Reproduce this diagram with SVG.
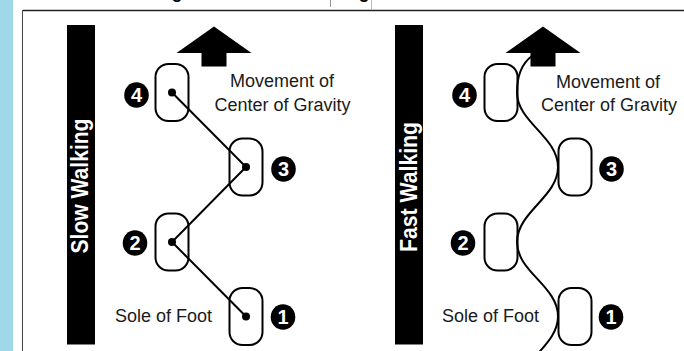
<svg xmlns="http://www.w3.org/2000/svg" width="684" height="351" viewBox="0 0 684 351">
<style>
.foot{fill:none;stroke:#000;stroke-width:2}
.lbl{font-family:"Liberation Sans",Arial,sans-serif;font-size:18px;fill:#1a1a1a}
.bar{fill:#000}
.bartxt{font-family:"Liberation Sans",Arial,sans-serif;font-size:23px;font-weight:bold;fill:#fff}
.num{fill:#000}
.numtxt{font-family:"Liberation Sans",Arial,sans-serif;font-size:20px;font-weight:bold;fill:#fff;text-anchor:middle}
.arrow{fill:#000}
.path{fill:none;stroke:#000;stroke-width:2}
.dot{fill:#000}
</style>
<rect width="684" height="351" fill="#fff"/>
<rect x="0" y="0" width="13" height="351" fill="#9fd9e9"/>
<g id="frame">
<line x1="22.5" y1="10.5" x2="684" y2="10.5" stroke="#222" stroke-width="1.3"/>
<line x1="22.5" y1="10.5" x2="22.5" y2="351" stroke="#444" stroke-width="1"/>
<line x1="330.5" y1="0" x2="330.5" y2="7" stroke="#999" stroke-width="1"/>
<line x1="371.5" y1="0" x2="371.5" y2="10" stroke="#bbb" stroke-width="1"/>
<text x="177" y="-2.2" font-family="Liberation Sans,Arial,sans-serif" font-size="18" font-weight="bold" text-anchor="middle">g</text>
<text x="364" y="-2.2" font-family="Liberation Sans,Arial,sans-serif" font-size="18" font-weight="bold" text-anchor="middle">g</text>
</g>

<!-- Slow walking panel -->
<g id="slow-bar">
<rect class="bar" x="67" y="25" width="28" height="319.5"/>
<text class="bartxt" transform="translate(88,253.5) rotate(-90)" textLength="135" lengthAdjust="spacingAndGlyphs">Slow Walking</text>
</g>
<g id="slow-arrow">
<polygon class="arrow" points="214,26.5 251.5,53 226.5,53 226.5,66.5 201.5,66.5 201.5,53 176.5,53"/>
</g>
<g id="slow-label">
<text class="lbl" x="282" y="87" text-anchor="middle">Movement of</text>
<text class="lbl" x="282.5" y="111" text-anchor="middle">Center of Gravity</text>
</g>
<g id="slow-connectors">
<polyline class="path" points="246,316.5 172,242 246,167 172,92.5"/>
</g>
<g id="slow-foot4">
<rect class="foot" x="155.5" y="64" width="33" height="57" rx="13"/>
<circle class="dot" cx="172" cy="92.5" r="4"/>
<ellipse class="num" cx="136.5" cy="95" rx="12.3" ry="12.8"/>
<text class="numtxt" x="136.5" y="102">4</text>
</g>
<g id="slow-foot3">
<rect class="foot" x="229.5" y="138.5" width="33" height="57" rx="13"/>
<circle class="dot" cx="246" cy="167" r="4"/>
<ellipse class="num" cx="283.5" cy="169" rx="12.3" ry="12.8"/>
<text class="numtxt" x="283.5" y="176">3</text>
</g>
<g id="slow-foot2">
<rect class="foot" x="155.5" y="213.5" width="33" height="57" rx="13"/>
<circle class="dot" cx="172" cy="242" r="4"/>
<ellipse class="num" cx="135" cy="243" rx="12.3" ry="12.8"/>
<text class="numtxt" x="135" y="250">2</text>
</g>
<g id="slow-foot1">
<rect class="foot" x="229.5" y="288" width="33" height="57" rx="13"/>
<circle class="dot" cx="246" cy="316.5" r="4"/>
<ellipse class="num" cx="283" cy="317" rx="12.3" ry="12.8"/>
<text class="numtxt" x="283" y="324">1</text>
<text class="lbl" x="115" y="322">Sole of Foot</text>
</g>

<!-- Fast walking panel -->
<g id="fast-bar">
<rect class="bar" x="395" y="25" width="28" height="319.5"/>
<text class="bartxt" transform="translate(416.5,252) rotate(-90)" textLength="130" lengthAdjust="spacingAndGlyphs">Fast Walking</text>
</g>
<g id="fast-arrow">
<polygon class="arrow" points="543,26.5 580.5,53 555.5,53 555.5,66.5 530.5,66.5 530.5,53 505.5,53"/>
</g>
<g id="fast-label">
<text class="lbl" x="608" y="88" text-anchor="middle">Movement of</text>
<text class="lbl" x="609" y="111" text-anchor="middle">Center of Gravity</text>
</g>
<g id="fast-connectors">
<path class="path" d="M517,392 C517,362 558,346 558,316.5 C558,286 517,272 517,242 C517,212 558,197 558,167 C558,137 517,122 517,92.5 C517,76 521,64 532,56"/>
</g>
<g id="fast-foot4">
<rect class="foot" x="484.5" y="64" width="33" height="57" rx="13"/>
<ellipse class="num" cx="464.5" cy="95" rx="12.3" ry="12.8"/>
<text class="numtxt" x="464.5" y="102">4</text>
</g>
<g id="fast-foot3">
<rect class="foot" x="558.5" y="138.5" width="33" height="57" rx="13"/>
<ellipse class="num" cx="611.5" cy="169" rx="12.3" ry="12.8"/>
<text class="numtxt" x="611.5" y="176">3</text>
</g>
<g id="fast-foot2">
<rect class="foot" x="484.5" y="213.5" width="33" height="57" rx="13"/>
<ellipse class="num" cx="463" cy="243" rx="12.3" ry="12.8"/>
<text class="numtxt" x="463" y="250">2</text>
</g>
<g id="fast-foot1">
<rect class="foot" x="558.5" y="288" width="33" height="57" rx="13"/>
<ellipse class="num" cx="611" cy="317" rx="12.3" ry="12.8"/>
<text class="numtxt" x="611" y="324">1</text>
<text class="lbl" x="442" y="322">Sole of Foot</text>
</g>
</svg>
